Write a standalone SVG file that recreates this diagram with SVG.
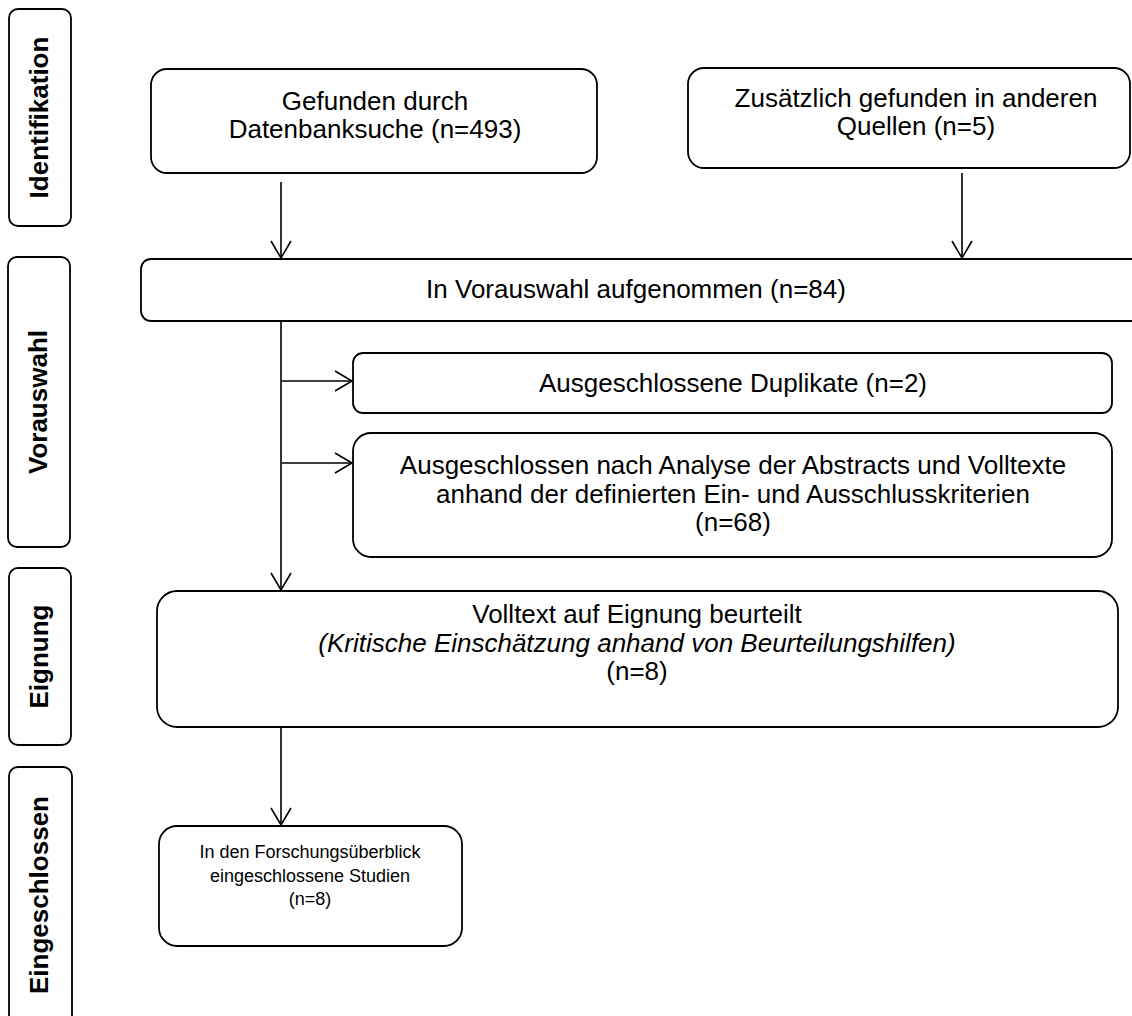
<svg xmlns="http://www.w3.org/2000/svg" width="1132" height="1016" viewBox="0 0 1132 1016">
<style>
.box{fill:#fff;stroke:#000;stroke-width:1.8}
.t{font-family:"Liberation Sans",Arial,sans-serif;font-size:26px;fill:#000;text-anchor:middle}
.s{font-size:18px}
.i{font-style:italic}
.lab{font-family:"Liberation Sans",Arial,sans-serif;font-size:26px;font-weight:bold;fill:#000;text-anchor:middle}
.c{fill:none;stroke:#000;stroke-width:1.6}
</style>
<defs>
<marker id="arr" markerWidth="22" markerHeight="24" viewBox="-20 -12 22 24" refX="0" refY="0" orient="auto" markerUnits="userSpaceOnUse">
<path d="M-17,-10 L0,0 L-17,10" fill="none" stroke="#000" stroke-width="1.6"/>
</marker>
</defs>
<rect width="1132" height="1016" fill="#fff"/>
<g id="lab-identifikation"><rect class="box" x="9" y="9" width="62" height="217" rx="9"/><text class="lab" transform="translate(48,117.5) rotate(-90)">Identifikation</text></g>
<g id="lab-vorauswahl"><rect class="box" x="8" y="257" width="62" height="290" rx="9"/><text class="lab" transform="translate(47,402) rotate(-90)">Vorauswahl</text></g>
<g id="lab-eignung"><rect class="box" x="9" y="568" width="62" height="177" rx="9"/><text class="lab" transform="translate(48,656.5) rotate(-90)">Eignung</text></g>
<g id="lab-eingeschlossen"><rect class="box" x="9" y="767" width="63" height="258" rx="9"/><text class="lab" transform="translate(48,895) rotate(-90)">Eingeschlossen</text></g>
<g id="connectors">
<line class="c" x1="281" y1="182" x2="281" y2="258" marker-end="url(#arr)"/>
<line class="c" x1="962" y1="173" x2="962" y2="258" marker-end="url(#arr)"/>
<line class="c" x1="281" y1="321" x2="281" y2="590" marker-end="url(#arr)"/>
<line class="c" x1="282" y1="381" x2="352" y2="381" marker-end="url(#arr)"/>
<line class="c" x1="282" y1="463" x2="352" y2="463" marker-end="url(#arr)"/>
<line class="c" x1="281" y1="727" x2="281" y2="825" marker-end="url(#arr)"/>
</g>
<g id="n-datenbank"><rect class="box" x="151" y="69" width="446" height="104" rx="16"/><text class="t" x="375" y="110">Gefunden durch</text><text class="t" x="375" y="138">Datenbanksuche (n=493)</text></g>
<g id="n-andere"><rect class="box" x="688" y="68" width="442" height="100" rx="16"/><text class="t" x="916" y="107">Zusätzlich gefunden in anderen</text><text class="t" x="916" y="135">Quellen (n=5)</text></g>
<g id="n-vorauswahl"><rect class="box" x="141" y="259" width="1010" height="62" rx="10"/><text class="t" x="636" y="298">In Vorauswahl aufgenommen (n=84)</text></g>
<g id="n-duplikate"><rect class="box" x="353" y="353" width="759" height="60" rx="10"/><text class="t" x="733" y="392">Ausgeschlossene Duplikate (n=2)</text></g>
<g id="n-ausgeschlossen"><rect class="box" x="353" y="433" width="759" height="124" rx="18"/><text class="t" x="733" y="474">Ausgeschlossen nach Analyse der Abstracts und Volltexte</text><text class="t" x="733" y="503">anhand der definierten Ein- und Ausschlusskriterien</text><text class="t" x="733" y="531">(n=68)</text></g>
<g id="n-volltext"><rect class="box" x="157" y="591" width="961" height="136" rx="20"/><text class="t" x="637" y="623">Volltext auf Eignung beurteilt</text><text class="t i" x="637" y="652">(Kritische Einschätzung anhand von Beurteilungshilfen)</text><text class="t" x="637" y="680">(n=8)</text></g>
<g id="n-eingeschlossen"><rect class="box" x="159" y="826" width="303" height="120" rx="18"/><text class="t s" x="310" y="858">In den Forschungsüberblick</text><text class="t s" x="310" y="882">eingeschlossene Studien</text><text class="t s" x="310" y="905">(n=8)</text></g>
</svg>
